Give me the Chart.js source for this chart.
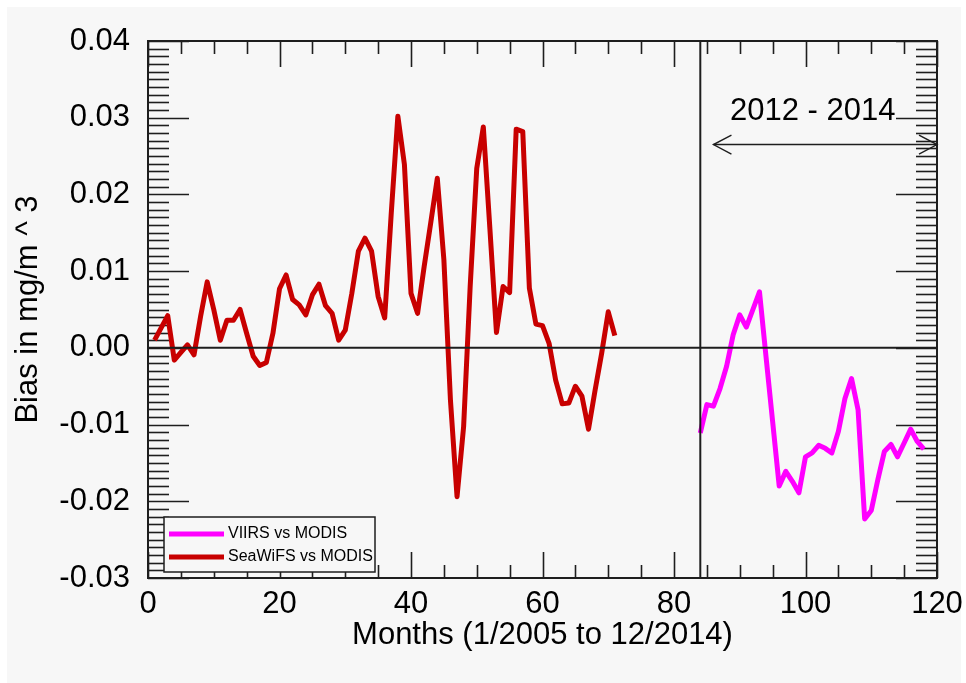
<!DOCTYPE html>
<html>
<head>
<meta charset="utf-8">
<script src="https://cdn.jsdelivr.net/npm/chart.js@4.4.0/dist/chart.umd.min.js"></script>
<style>
  html, body { margin: 0; padding: 0; background: #ffffff; }
  canvas { display: block; }
</style>
</head>
<body>
<canvas id="biasChart" width="966" height="683"></canvas>
<script>
// Monthly chlorophyll bias series (mg/m^3), month 1 = January 2005
const seawifsStartMonth = 1;
const seawifsBias = [
  0.0010, 0.0026, 0.0042, -0.0016, -0.0006, 0.0004, -0.0009, 0.0041, 0.0086, 0.0050,
  0.0010, 0.0036, 0.0036, 0.0050, 0.0019, -0.0011, -0.0023, -0.0019, 0.0019, 0.0077,
  0.0095, 0.0063, 0.0056, 0.0043, 0.0069, 0.0083, 0.0055, 0.0045, 0.0010, 0.0023,
  0.0071, 0.0126, 0.0143, 0.0126, 0.0067, 0.0039, 0.0176, 0.0302, 0.0239, 0.0071,
  0.0045, 0.0106, 0.0163, 0.0221, 0.0115, -0.0068, -0.0194, -0.0103, 0.0080, 0.0234,
  0.0288, 0.0155, 0.0020, 0.0080, 0.0072, 0.0285, 0.0282, 0.0078, 0.0031, 0.0029,
  0.0006, -0.0042, -0.0073, -0.0072, -0.0050, -0.0063, -0.0106, -0.0055, -0.0007, 0.0047,
  0.0016
];

const viirsStartMonth = 84;
const viirsBias = [
  -0.0111, -0.0074, -0.0076, -0.0053, -0.0024, 0.0017, 0.0043, 0.0027, 0.0050, 0.0073,
  -0.0012, -0.0096, -0.0180, -0.0161, -0.0174, -0.0189, -0.0142, -0.0137, -0.0127, -0.0131,
  -0.0137, -0.0109, -0.0066, -0.0040, -0.0081, -0.0223, -0.0212, -0.0172, -0.0135, -0.0126,
  -0.0142, -0.0124, -0.0106, -0.0122, -0.0132
];

const seriesLabels = ['SeaWiFS vs MODIS', 'VIIRS vs MODIS'];
const seriesColors = ['#c80000', '#ff00ff'];

// Axis ranges and ticks
const xRange = [0, 120];
const xMajorStep = 20;
const xMinorStep = 5;
const yRange = [-0.03, 0.04];
const yMajorStep = 0.01;
const yMinorStep = 0.001;

// Period marker: vertical split at January 2012 and a double arrow over 2012-2014
const splitMonth = 84;
const periodArrow = { from: 86, to: 120, y: 0.0265 };
const periodText = { text: '2012 - 2014', x: 101.1, y: 0.0308 };

const toPoints = (start, values) => values.map((v, i) => ({ x: start + i, y: v }));

const FONT = "'Liberation Sans', Arial, Helvetica, sans-serif";
const FONT_SIZE = 31;
const INK = '#1e1e1e';
Chart.defaults.font.family = FONT;
Chart.defaults.color = '#000000';

function seg(ctx, x1, y1, x2, y2) {
  ctx.beginPath();
  ctx.moveTo(x1, y1);
  ctx.lineTo(x2, y2);
  ctx.stroke();
}

const panelBackground = {
  id: 'panelBackground',
  beforeDraw(chart) {
    const ctx = chart.ctx;
    ctx.save();
    ctx.fillStyle = '#f7f7f7';
    ctx.fillRect(7, 7, 954, 676);
    ctx.restore();
  }
};

// Frame with inward-pointing major/minor ticks on all four sides
const frameTicks = {
  id: 'frameTicks',
  beforeDatasetsDraw(chart) {
    const { ctx, chartArea: a, scales: { x, y } } = chart;
    ctx.save();
    ctx.strokeStyle = INK;
    ctx.lineWidth = 1.6;
    const nx = Math.round((xRange[1] - xRange[0]) / xMinorStep);
    for (let i = 0; i <= nx; i++) {
      const v = xRange[0] + i * xMinorStep;
      const px = Math.round(x.getPixelForValue(v)) + 0.5;
      const len = (v % xMajorStep === 0) ? 26 : 13;
      seg(ctx, px, a.bottom, px, a.bottom - len);
      seg(ctx, px, a.top, px, a.top + len);
    }
    const ny = Math.round((yRange[1] - yRange[0]) / yMinorStep);
    const perMajor = Math.round(yMajorStep / yMinorStep);
    for (let i = 0; i <= ny; i++) {
      const v = yRange[0] + i * yMinorStep;
      const py = Math.round(y.getPixelForValue(v)) + 0.5;
      const len = (i % perMajor === 0) ? 41 : 21;
      seg(ctx, a.left, py, a.left + len, py);
      seg(ctx, a.right, py, a.right - len, py);
    }
    ctx.lineWidth = 2;
    ctx.strokeRect(a.left, a.top, a.right - a.left, a.bottom - a.top);
    ctx.restore();
  }
};

// Zero line, split line, period arrow and its label, then the legend box
const overlays = {
  id: 'overlays',
  afterDatasetsDraw(chart) {
    const { ctx, chartArea: a, scales: { x, y } } = chart;
    ctx.save();
    ctx.strokeStyle = INK;
    ctx.lineWidth = 2;
    const y0 = y.getPixelForValue(0);
    seg(ctx, a.left, y0, a.right, y0);
    const xs = x.getPixelForValue(splitMonth);
    seg(ctx, xs, a.top, xs, a.bottom);

    ctx.lineWidth = 1.4;
    const ax1 = x.getPixelForValue(periodArrow.from);
    const ax2 = x.getPixelForValue(periodArrow.to);
    const ay = y.getPixelForValue(periodArrow.y);
    seg(ctx, ax1, ay, ax2, ay);
    ctx.beginPath();
    ctx.moveTo(ax1 + 18, ay - 9.5); ctx.lineTo(ax1, ay); ctx.lineTo(ax1 + 18, ay + 9.5);
    ctx.stroke();
    ctx.beginPath();
    ctx.moveTo(ax2 - 18, ay - 9.5); ctx.lineTo(ax2, ay); ctx.lineTo(ax2 - 18, ay + 9.5);
    ctx.stroke();

    ctx.fillStyle = '#000';
    ctx.font = FONT_SIZE + 'px ' + FONT;
    ctx.textAlign = 'center';
    ctx.textBaseline = 'middle';
    ctx.fillText(periodText.text, x.getPixelForValue(periodText.x), y.getPixelForValue(periodText.y));

    // Legend
    const box = { l: 164, t: 517, w: 211, h: 55 };
    ctx.fillStyle = '#f7f7f7';
    ctx.fillRect(box.l, box.t, box.w, box.h);
    ctx.strokeStyle = INK;
    ctx.lineWidth = 1.5;
    ctx.strokeRect(box.l, box.t, box.w, box.h);
    const order = [1, 0];
    ctx.font = '16px ' + FONT;
    ctx.textAlign = 'left';
    order.forEach((di, row) => {
      const ds = chart.data.datasets[di];
      const ry = box.t + 17 + row * 23;
      ctx.strokeStyle = ds.borderColor;
      ctx.lineWidth = 5;
      seg(ctx, box.l + 5, ry, box.l + 60, ry);
      ctx.fillStyle = '#000';
      ctx.fillText(ds.label, box.l + 64, ry);
    });
    ctx.restore();
  }
};

const fmtY = v => (Math.abs(v) < 1e-9 ? 0 : v).toFixed(2);

new Chart(document.getElementById('biasChart'), {
  type: 'line',
  data: {
    datasets: [
      {
        label: seriesLabels[0],
        data: toPoints(seawifsStartMonth, seawifsBias),
        borderColor: seriesColors[0],
        borderWidth: 5,
        borderJoinStyle: 'round',
        pointRadius: 0,
        tension: 0,
        fill: false
      },
      {
        label: seriesLabels[1],
        data: toPoints(viirsStartMonth, viirsBias),
        borderColor: seriesColors[1],
        borderWidth: 5,
        borderJoinStyle: 'round',
        pointRadius: 0,
        tension: 0,
        fill: false
      }
    ]
  },
  options: {
    responsive: false,
    animation: false,
    devicePixelRatio: 1,
    layout: { padding: { left: 0, right: 29, top: 41, bottom: 0 } },
    plugins: {
      legend: { display: false },
      tooltip: { enabled: false }
    },
    scales: {
      x: {
        type: 'linear',
        min: xRange[0],
        max: xRange[1],
        grid: { display: false, drawTicks: false },
        border: { display: false },
        ticks: {
          stepSize: xMajorStep,
          padding: 8,
          maxRotation: 0,
          autoSkip: false,
          color: '#000',
          font: { size: FONT_SIZE }
        },
        title: {
          display: true,
          text: 'Months (1/2005 to 12/2014)',
          color: '#000',
          font: { size: FONT_SIZE },
          padding: { top: 0, bottom: 29 }
        },
        afterFit(scale) {
          scale.height = 105;
          scale.paddingLeft = 0;
          scale.paddingRight = 0;
        }
      },
      y: {
        type: 'linear',
        min: yRange[0],
        max: yRange[1],
        grid: { display: false, drawTicks: false },
        border: { display: false },
        ticks: {
          stepSize: yMajorStep,
          padding: 18,
          color: '#000',
          font: { size: FONT_SIZE },
          callback: fmtY
        },
        title: {
          display: true,
          text: 'Bias in mg/m ^ 3',
          color: '#000',
          font: { size: FONT_SIZE },
          padding: { top: 10, bottom: 0 }
        },
        afterFit(scale) {
          scale.width = 148;
          scale.paddingTop = 0;
          scale.paddingBottom = 0;
        }
      }
    }
  },
  plugins: [panelBackground, frameTicks, overlays]
});
</script>
</body>
</html>
